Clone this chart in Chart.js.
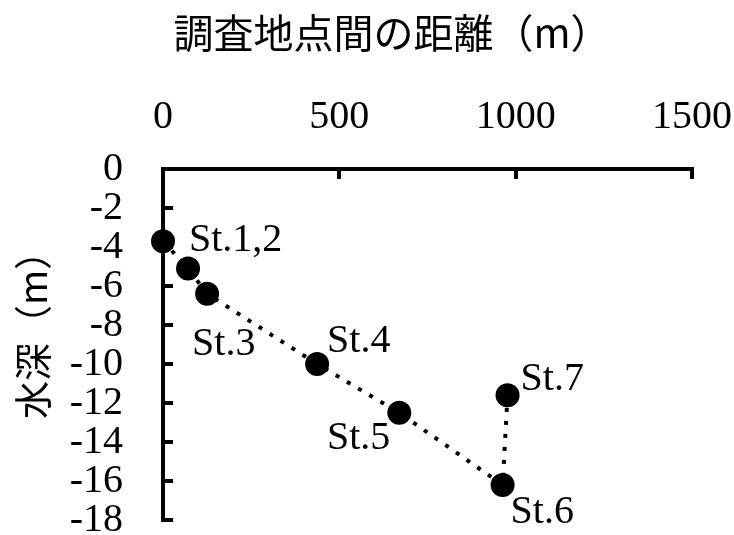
<!DOCTYPE html>
<html>
<head>
<meta charset="utf-8">
<script src="https://cdn.jsdelivr.net/npm/chart.js@4.4.1/dist/chart.umd.min.js"></script>
<style>
html, body { margin: 0; padding: 0; background: #fff; overflow: hidden; }
#wrap { width: 734px; height: 535px; }
</style>
</head>
<body>
<div id="wrap"><canvas id="depthChart"></canvas></div>
<script>
// distance between stations (m) and water depth (m)
const distances = [0, 71, 125, 437, 670, 963, 977];
const depths = [-3.7, -5.1, -6.4, -10.0, -12.5, -16.2, -11.6];
const stationLabels = ['St.1,2', '', 'St.3', 'St.4', 'St.5', 'St.6', 'St.7'];
const xTicks = [0, 500, 1000, 1500];
const yTicks = [0, -2, -4, -6, -8, -10, -12, -14, -16, -18];
const chartTitle = '調査地点間の距離（m）';
const yTitle = '\u3000水深（m）';

const serif = '"Liberation Serif", "Times New Roman", serif';
const cjk = '"Noto Sans CJK JP", "Noto Sans", sans-serif';

// text next to each station: [align, dx, dy] from the point
const stationLabelPlugin = {
	id: 'stationLabels',
	afterDatasetsDraw(chart, args, opts) {
		const ctx = chart.ctx;
		const meta = chart.getDatasetMeta(0);
		ctx.save();
		ctx.font = opts.font;
		ctx.fillStyle = '#000';
		ctx.textBaseline = 'alphabetic';
		meta.data.forEach((pt, i) => {
			const text = stationLabels[i];
			if (!text) return;
			const p = opts.placement[i];
			ctx.textAlign = p[0];
			ctx.fillText(text, pt.x + p[1], pt.y + p[2]);
		});
		ctx.restore();
	}
};

const topTitlePlugin = {
	id: 'topTitle',
	afterDraw(chart, args, opts) {
		const ctx = chart.ctx;
		ctx.save();
		ctx.font = opts.font;
		ctx.fillStyle = '#000';
		ctx.textAlign = 'center';
		ctx.textBaseline = 'middle';
		ctx.fillText(opts.text, opts.x, opts.y);
		ctx.restore();
	}
};

function renderDepthChart() {
	const ctx = document.getElementById('depthChart');
	const data = {
		datasets: [
			{
				data: distances.map((d, i) => ({x: d, y: depths[i]})),
				showLine: true,
				borderColor: '#000',
				borderWidth: 4,
				borderDash: [4, 9],
				pointRadius: 12,
				pointHoverRadius: 12,
				pointBackgroundColor: '#000',
				pointBorderColor: '#000',
				pointBorderWidth: 0,
				clip: false
			}
		]
	};
	const config = {
		type: 'scatter',
		data: data,
		options: {
			responsive: true,
			maintainAspectRatio: false,
			animation: false,
			layout: {
				autoPadding: false,
				padding: {top: 93, right: 42, bottom: 15, left: 0}
			},
			plugins: {
				legend: {display: false},
				tooltip: {enabled: false},
				title: {display: false},
				topTitle: {
					text: chartTitle,
					font: '40px ' + cjk,
					x: 392,
					y: 33
				},
				stationLabels: {
					font: '40px ' + serif,
					placement: [
						['left', 26, 10],
						['left', 0, 0],
						['left', -15, 61],
						['left', 10, -12],
						['right', -9, 36],
						['left', 8, 38],
						['left', 13, -5]
					]
				}
			},
			scales: {
				x: {
					type: 'linear',
					position: 'top',
					min: 0,
					max: 1500,
					afterBuildTicks: (scale) => {
						scale.ticks = xTicks.map((v) => ({value: v}));
					},
					afterFit: (scale) => {
						scale.height = 76;
						scale.paddingLeft = 0;
						scale.paddingRight = 0;
					},
					grid: {
						drawOnChartArea: false,
						drawTicks: true,
						tickLength: -10,
						color: '#000',
						lineWidth: 4
					},
					border: {display: true, color: '#000', width: 4},
					ticks: {
						padding: 38,
						color: '#000',
						maxRotation: 0,
						autoSkip: false,
						font: {family: serif, size: 40},
						callback: (v) => String(v)
					}
				},
				y: {
					type: 'linear',
					min: -18,
					max: 0,
					afterBuildTicks: (scale) => {
						scale.ticks = yTicks.map((v) => ({value: v}));
					},
					afterFit: (scale) => {
						scale.width = 163;
						scale.paddingTop = 0;
						scale.paddingBottom = 0;
					},
					grid: {
						drawOnChartArea: false,
						drawTicks: true,
						tickLength: -10,
						color: '#000',
						lineWidth: 4
					},
					border: {display: true, color: '#000', width: 4},
					ticks: {
						padding: 50,
						color: '#000',
						autoSkip: false,
						font: {family: serif, size: 40},
						callback: (v) => String(v)
					},
					title: {
						display: true,
						text: yTitle,
						color: '#000',
						font: {family: cjk, size: 38},
						padding: {top: 10, bottom: 14}
					}
				}
			}
		},
		plugins: [stationLabelPlugin, topTitlePlugin]
	};
	return new Chart(ctx, config);
}

renderDepthChart();
</script>
</body>
</html>
